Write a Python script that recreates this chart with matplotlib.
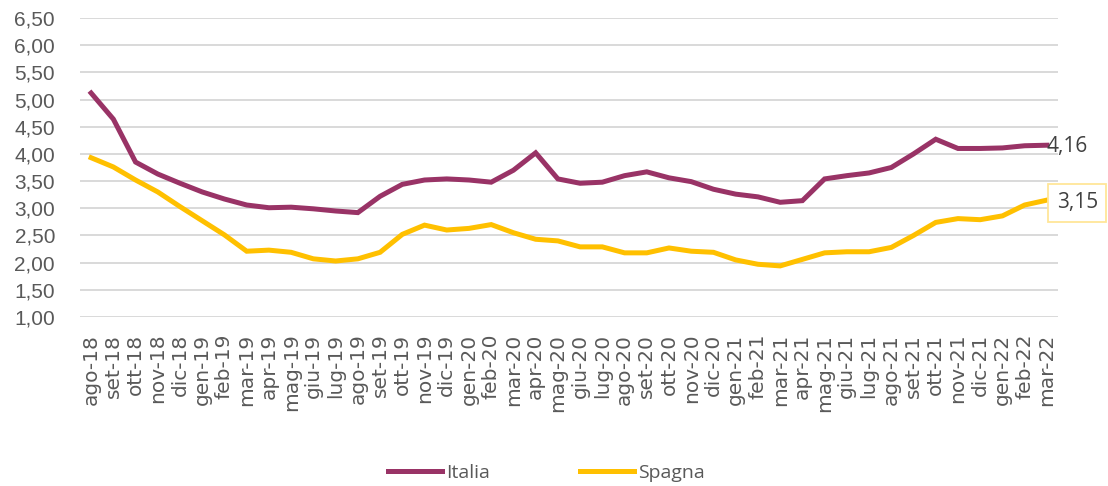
import matplotlib
matplotlib.use("Agg")
import matplotlib.pyplot as plt
from matplotlib.ticker import FuncFormatter, MultipleLocator

mesi = ["ago-18", "set-18", "ott-18", "nov-18", "dic-18",
        "gen-19", "feb-19", "mar-19", "apr-19", "mag-19", "giu-19",
        "lug-19", "ago-19", "set-19", "ott-19", "nov-19", "dic-19",
        "gen-20", "feb-20", "mar-20", "apr-20", "mag-20", "giu-20",
        "lug-20", "ago-20", "set-20", "ott-20", "nov-20", "dic-20",
        "gen-21", "feb-21", "mar-21", "apr-21", "mag-21", "giu-21",
        "lug-21", "ago-21", "set-21", "ott-21", "nov-21", "dic-21",
        "gen-22", "feb-22", "mar-22"]

italia = [5.12, 4.64, 3.85, 3.63, 3.46, 3.30, 3.17, 3.06, 3.01, 3.02, 2.99,
          2.95, 2.92, 3.22, 3.44, 3.52, 3.54, 3.52, 3.48, 3.70, 4.02, 3.54,
          3.46, 3.48, 3.60, 3.67, 3.56, 3.49, 3.35, 3.26, 3.21, 3.11, 3.14,
          3.54, 3.60, 3.65, 3.75, 4.00, 4.27, 4.10, 4.10, 4.11, 4.15, 4.16]

spagna = [3.93, 3.76, 3.52, 3.30, 3.03, 2.77, 2.51, 2.21, 2.23, 2.19, 2.07,
          2.03, 2.07, 2.19, 2.52, 2.69, 2.60, 2.63, 2.70, 2.55, 2.43, 2.40,
          2.29, 2.29, 2.18, 2.18, 2.27, 2.21, 2.19, 2.05, 1.97, 1.94, 2.06,
          2.18, 2.20, 2.20, 2.28, 2.50, 2.74, 2.81, 2.79, 2.86, 3.06, 3.15]

VIOLA = "#993366"
GIALLO = "#FFC000"

fig = plt.figure(figsize=(11.08, 4.86), dpi=100)
ax = fig.add_axes([80 / 1108, (486 - 317) / 486, 978 / 1108, 299 / 486])

x = list(range(len(mesi)))
ax.plot(x, italia, color=VIOLA, lw=3.6, label="Italia", solid_joinstyle="miter")
ax.plot(x, spagna, color=GIALLO, lw=3.6, label="Spagna", solid_joinstyle="miter")

ax.set_xlim(-0.5, len(mesi) - 0.5)
ax.set_ylim(1, 6.5)
ax.yaxis.set_major_locator(MultipleLocator(0.5))
ax.yaxis.set_major_formatter(FuncFormatter(lambda v, p: f"{v:.2f}".replace(".", ",")))
ax.grid(axis="y", color="#D9D9D9", lw=1.4)
ax.set_axisbelow(True)
for s in ax.spines.values():
    s.set_visible(False)

ax.set_xticks(x)
ax.set_xticklabels(mesi, rotation=90, fontsize=14.5, color="#595959",
                   family="DejaVu Sans")
ax.tick_params(axis="x", length=0, pad=12)
ax.tick_params(axis="y", length=0, pad=18, labelsize=15, labelcolor="#595959")
for t in ax.get_yticklabels():
    t.set_family("Liberation Sans")

# etichette ultimo valore
ax.annotate(f"{italia[-1]:.2f}".replace(".", ","), (x[-1], italia[-1]),
            xytext=(0, -1), textcoords="offset points", ha="left", va="center",
            fontsize=15, color="#404040", family="Open Sans",
            annotation_clip=False)
ax.annotate(f"{spagna[-1]:.2f}".replace(".", ","), (x[-1], spagna[-1]),
            xytext=(7, -2), textcoords="offset points", ha="left", va="center",
            fontsize=15, color="#404040", family="Open Sans",
            annotation_clip=False,
            bbox=dict(boxstyle="square,pad=0.4", fc="white", ec="#FFE699", lw=1.3))

leg = fig.legend(loc="center", bbox_to_anchor=(0.493, 1 - 473 / 486), ncol=2,
                 frameon=False, handlelength=2.8, handletextpad=0.2,
                 columnspacing=4.6, prop={"family": "Open Sans", "size": 14})
for t in leg.get_texts():
    t.set_color("#595959")

fig.savefig("out.png", dpi=100)
